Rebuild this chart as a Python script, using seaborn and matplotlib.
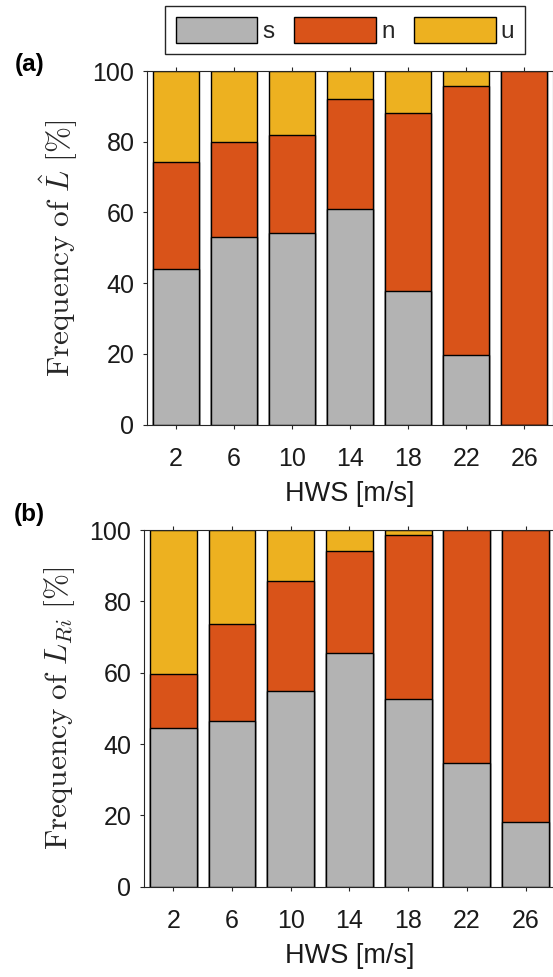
import matplotlib
matplotlib.use("Agg")
import matplotlib.pyplot as plt
import seaborn as sns
import pandas as pd
import numpy as np
from matplotlib.patches import Patch

sns.set_theme(style="white")
plt.rcParams['font.family'] = ['Liberation Sans', 'DejaVu Sans']
plt.rcParams['mathtext.fontset'] = 'cm'

categories = ["2", "6", "10", "14", "18", "22", "26"]
a_s = [44.0, 53.2, 54.3, 61.0, 37.7, 19.8, 0.0]
a_n = [30.2, 26.6, 27.7, 31.1, 50.4, 76.0, 100.0]
a_u = [25.8, 20.2, 18.0, 7.9, 11.9, 4.2, 0.0]
b_s = [44.6, 46.4, 55.0, 65.4, 52.5, 34.6, 18.1]
b_n = [15.1, 27.3, 30.7, 28.6, 46.2, 65.4, 81.9]
b_u = [40.3, 26.3, 14.3, 6.0, 1.3, 0.0, 0.0]
series_names = ["s", "n", "u"]
colors = ["#b3b3b3", "#d95319", "#edb120"]

W, H = 553, 977
fig = plt.figure(figsize=(W / 100, H / 100), dpi=100)
ax_a = fig.add_axes([147 / W, 1 - 424.7 / H, 406.3 / W, 353.7 / H])
ax_b = fig.add_axes([143.9 / W, 1 - 886.7 / H, 411.1 / W, 356.7 / H])


def draw(ax, s, n, u, ylabel, tag, tag_y):
    df = pd.DataFrame({"HWS": categories, "s": s, "n": n, "u": u})
    df["top_u"] = df["s"] + df["n"] + df["u"]
    df["top_n"] = df["s"] + df["n"]
    for col, c in [("top_u", colors[2]), ("top_n", colors[1]), ("s", colors[0])]:
        sns.barplot(data=df, x="HWS", y=col, ax=ax, color=c, width=0.8,
                    edgecolor="black", linewidth=1.0, saturation=1, zorder=2)
    ax.set_ylim(0, 100)
    ax.set_xlim(-0.5, 6.5)
    ax.set_yticks([0, 20, 40, 60, 80, 100])
    ax.tick_params(axis="both", direction="out", length=3, width=0.8,
                   top=True, right=True, labelsize=18, colors="#262626",
                   bottom=True, left=True)
    ax.tick_params(axis="both", labelcolor="#1a1a1a")
    ax.tick_params(axis="x", pad=13)
    ax.tick_params(axis="y", pad=6)
    for sp in ax.spines.values():
        sp.set_visible(True)
        sp.set_color("#262626")
        sp.set_linewidth(0.8)
    ax.set_xlabel("HWS [m/s]", fontsize=19.5, color="#1a1a1a", labelpad=7)
    ax.set_ylabel(ylabel, fontsize=22.5, color="#262626", labelpad=9)
    fig.text(45 / W, 1 - tag_y / H, tag, fontsize=17.5, fontweight="bold",
             ha="right", va="center", color="black")


draw(ax_a, a_s, a_n, a_u, r"$\mathrm{Frequency\ of\ }\hat{L}\ [\%]$", "(a)", 65)
draw(ax_b, b_s, b_n, b_u, r"$\mathrm{Frequency\ of\ }L_{Ri}\ [\%]$", "(b)", 514)

handles = [Patch(facecolor=c, edgecolor="black", linewidth=1.0) for c in colors]
fig.legend(handles, series_names, loc="upper center",
           bbox_to_anchor=(345.2 / W, 1 - 6 / H), borderaxespad=0,
           ncol=3, fontsize=17.5, frameon=True, fancybox=False, edgecolor="#262626",
           handlelength=3.35, handleheight=1.25, handletextpad=0.22,
           columnspacing=0.8, borderpad=0.45, framealpha=1)

fig.savefig("out.png", dpi=100)
